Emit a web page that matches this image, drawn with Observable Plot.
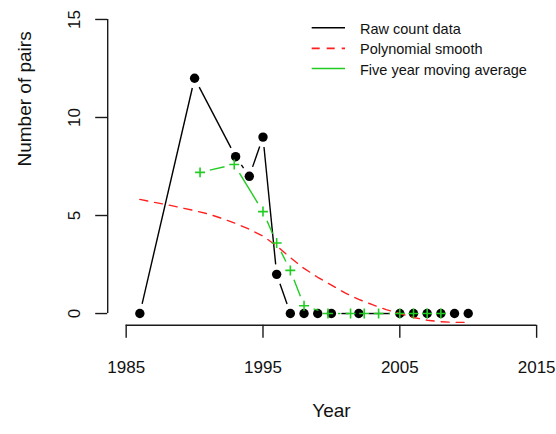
<!DOCTYPE html>
<html>
<head>
<meta charset="utf-8">
<script src="https://cdn.jsdelivr.net/npm/d3@7"></script>
<script src="https://cdn.jsdelivr.net/npm/@observablehq/plot@0.6"></script>
<style>
  body { margin: 0; background: #fff; }
  #chart { position: relative; width: 556px; height: 434px; font-family: "Liberation Sans", Arial, sans-serif; }
  #chart svg { display: block; }
  #legend { position: absolute; left: 0; top: 0; pointer-events: none; }
</style>
</head>
<body>
<div id="chart"></div>
<script>
// ---- data ----
const years  = [1986, 1990, 1993, 1994, 1995, 1996, 1997, 1998, 1999, 2000, 2002, 2005, 2006, 2007, 2008, 2009, 2010];
const counts = [0, 12, 8, 7, 9, 2, 0, 0, 0, 0, 0, 0, 0, 0, 0, 0, 0];

const smoothYears  = [1986, 1987, 1988, 1989, 1990, 1991, 1992, 1993, 1994, 1995, 1996, 1997, 1998, 1999, 2000, 2001, 2002, 2003, 2004, 2005, 2006, 2007, 2008, 2009, 2010];
const smoothValues = [5.82, 5.68, 5.55, 5.40, 5.25, 5.08, 4.85, 4.60, 4.30, 3.95, 3.45, 2.85, 2.30, 1.85, 1.45, 1.05, 0.72, 0.45, 0.20, 0.00, -0.20, -0.34, -0.42, -0.45, -0.45];

const maYears  = [1990.4, 1992.9, 1995, 1996, 1997, 1998, 1999.75, 2001.4, 2002.4, 2003.45, 2005, 2006, 2007, 2008];
const maValues = [7.2, 7.6, 5.2, 3.6, 2.2, 0.4, 0, 0, 0, 0, 0, 0, 0, 0];

const xTicks = [1985, 1995, 2005, 2015];
const yTicks = [0, 5, 10, 15];
const xLabel = "Year";
const yLabel = "Number of pairs";
const seriesNames  = ["Raw count data", "Polynomial smooth", "Five year moving average"];
const seriesColors = ["#000000", "#ff1f1f", "#22cc22"];

// ---- derived tables ----
const raw    = years.map((x, i) => ({x, y: counts[i]}));
const smooth = smoothYears.map((x, i) => ({x, y: smoothValues[i]}));
const ma     = maYears.map((x, i) => ({x, y: maValues[i]}));
const segs = a => a.slice(1).map((d, i) => ({x1: a[i].x, y1: a[i].y, x2: d.x, y2: d.y}));

const xPad = 0.045 * (xTicks[xTicks.length - 1] - xTicks[0]);
const yPad = 0.04 * (yTicks[yTicks.length - 1] - yTicks[0]);
const xDom = [xTicks[0] - xPad, xTicks[xTicks.length - 1] + xPad];
const yDom = [yTicks[0] - yPad, yTicks[yTicks.length - 1] + yPad];

const axisColor = "#1a1a1a";
const gap = 10;

const chart = Plot.plot({
  width: 556,
  height: 434,
  marginLeft: 107.2,
  marginRight: 1.4,
  marginTop: 7.2,
  marginBottom: 109.2,
  x: {domain: xDom},
  y: {domain: yDom},
  style: {fontFamily: '"Liberation Sans", Arial, sans-serif', fontSize: "17px", color: "#111", background: "white"},
  marks: [
    // axes
    Plot.ruleY([yDom[0]], {x1: () => xTicks[0], x2: () => xTicks[xTicks.length - 1], stroke: axisColor, strokeWidth: 1.4}),
    Plot.ruleX([xDom[0]], {y1: () => yTicks[0], y2: () => yTicks[yTicks.length - 1], stroke: axisColor, strokeWidth: 1.4}),
    Plot.axisX({ticks: xTicks, tickSize: 13, tickFormat: () => "", fill: "none", stroke: axisColor, strokeWidth: 1.4}),
    Plot.axisY({ticks: yTicks, tickSize: 12, tickFormat: () => "", fill: "none", stroke: axisColor, strokeWidth: 1.4}),
    Plot.text(xTicks, {x: d => d, y: () => yDom[0], text: d => String(d), dy: 42.2, fontSize: 17, fill: "#111", ariaLabel: "tick-labels"}),
    Plot.text(yTicks, {x: () => xDom[0], y: d => d, text: d => String(d), rotate: -90, dx: -33.1, fontSize: 17, fill: "#111", ariaLabel: "tick-labels"}),
    Plot.text([xLabel], {frameAnchor: "bottom", dy: 91.8, fontSize: 19, fill: "#111"}),
    Plot.text([yLabel], {frameAnchor: "left", rotate: -90, dx: -83, fontSize: 19, fill: "#111"}),

    // raw count data (type "b": line with gaps, filled dots)
    Plot.arrow(segs(raw), {x1: "x1", y1: "y1", x2: "x2", y2: "y2", insetStart: gap, insetEnd: gap, headLength: 0, stroke: seriesColors[0], strokeWidth: 1.4, strokeLinecap: "butt"}),
    Plot.dot(raw, {x: "x", y: "y", r: 4.7, fill: seriesColors[0], stroke: "none"}),

    // polynomial smooth
    Plot.line(smooth, {x: "x", y: "y", stroke: seriesColors[1], strokeWidth: 1.4, strokeDasharray: "8,7", curve: "linear"}),

    // five year moving average
    Plot.arrow(segs(ma), {x1: "x1", y1: "y1", x2: "x2", y2: "y2", insetStart: gap, insetEnd: gap, headLength: 0, stroke: seriesColors[2], strokeWidth: 1.4, strokeLinecap: "butt"}),
    Plot.dot(ma, {x: "x", y: "y", symbol: "plus", r: 3.3, stroke: seriesColors[2], strokeWidth: 1.6})
  ]
});

const host = document.getElementById("chart");
host.appendChild(chart);

// slightly condense tick labels (the reference glyphs are narrow and tall)
chart.querySelectorAll('g[aria-label="tick-labels"] text').forEach(t => {
  const w = t.getComputedTextLength();
  t.setAttribute("textLength", (w * 0.85).toFixed(2));
  t.setAttribute("lengthAdjust", "spacingAndGlyphs");
});

// legend (inside the plot region, top right)
const leg = d3.select(host).append("svg")
  .attr("id", "legend").attr("width", 556).attr("height", 434);
const rowY = [27.7, 48.4, 68.5];
const lineX = [311.7, 345];
seriesNames.forEach((name, i) => {
  leg.append("line")
    .attr("x1", lineX[0]).attr("x2", lineX[1])
    .attr("y1", rowY[i]).attr("y2", rowY[i])
    .attr("stroke", seriesColors[i]).attr("stroke-width", 1.6)
    .attr("stroke-dasharray", i === 1 ? "8,7" : null);
  leg.append("text")
    .attr("x", 360).attr("y", rowY[i] + 6)
    .attr("font-family", '"Liberation Sans", Arial, sans-serif')
    .attr("font-size", 14.5).attr("fill", "#111")
    .text(name);
});
</script>
</body>
</html>
